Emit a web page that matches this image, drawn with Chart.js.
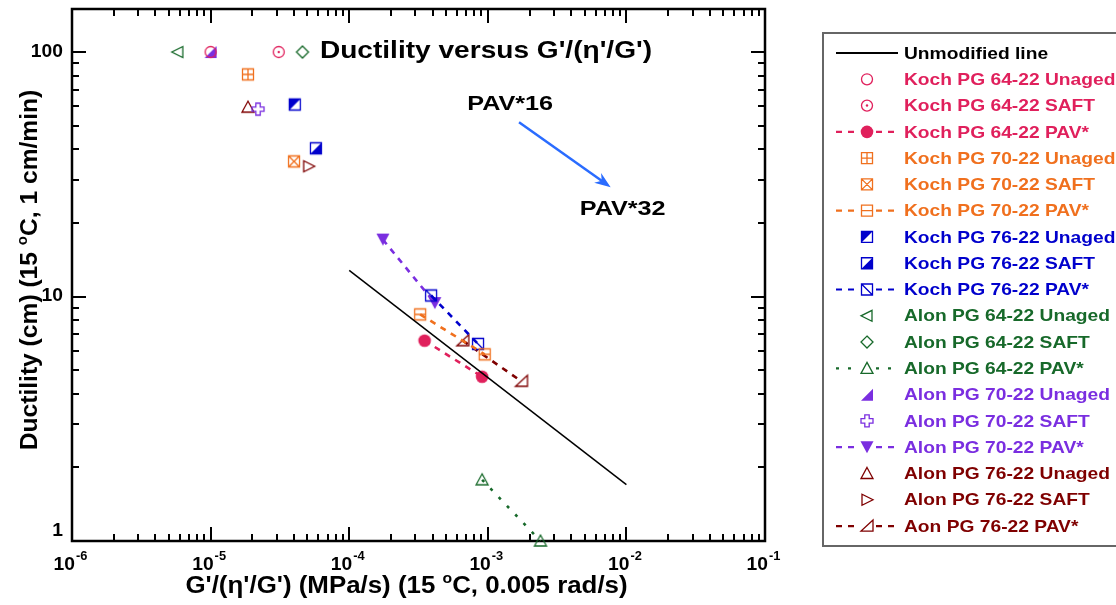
<!DOCTYPE html>
<html>
<head>
<meta charset="utf-8">
<script src="https://cdn.jsdelivr.net/npm/chart.js@4/dist/chart.umd.min.js"></script>
<style>
  body { margin: 0; background: #fff; }
  canvas { display: block; }
</style>
</head>
<body>
<canvas id="ductChart" width="1116" height="605"></canvas>
<script>
const FONT = '"Liberation Sans", Arial, sans-serif';

// axis ranges and tick labels
const xMin = 1e-6, xMax = 0.1;
const yMin = 1, yMax = 150;
const xTickExps = [-6, -5, -4, -3, -2, -1];
const yTickLabels = ["1", "10", "100"];

// data
const unmodifiedX = [1e-4, 1e-2];
const unmodifiedY = [12.8, 1.7];
const koch6422UnagedX = [1.0e-5];
const koch6422UnagedY = [100];
const koch6422SaftX = [3.1e-5];
const koch6422SaftY = [100];
const koch6422PavX = [3.5e-4, 9.1e-4];
const koch6422PavY = [6.6, 4.7];
const koch7022UnagedX = [1.86e-5];
const koch7022UnagedY = [81];
const koch7022SaftX = [4.0e-5];
const koch7022SaftY = [35.7];
const koch7022PavX = [3.25e-4, 9.5e-4];
const koch7022PavY = [8.45, 5.8];
const koch7622UnagedX = [4.05e-5];
const koch7622UnagedY = [61];
const koch7622SaftX = [5.75e-5];
const koch7622SaftY = [40.4];
const koch7622PavX = [3.9e-4, 8.5e-4];
const koch7622PavY = [10.1, 6.4];
const alon6422UnagedX = [5.8e-6];
const alon6422UnagedY = [100];
const alon6422SaftX = [4.6e-5];
const alon6422SaftY = [100];
const alon6422PavX = [9.1e-4, 2.4e-3];
const alon6422PavY = [1.78, 1.0];
const alon7022UnagedX = [1.0e-5];
const alon7022UnagedY = [100];
const alon7022SaftX = [2.2e-5];
const alon7022SaftY = [58.4];
const alon7022PavX = [1.75e-4, 4.15e-4];
const alon7022PavY = [17.1, 9.4];
const alon7622UnagedX = [1.86e-5];
const alon7622UnagedY = [59.5];
const alon7622SaftX = [5.1e-5];
const alon7622SaftY = [34.1];
const alon7622PavX = [6.6e-4, 1.75e-3];
const alon7622PavY = [6.6, 4.5];

// annotation anchors, in data units
const pav16At = [1.45e-3, 61];
const pav32At = [9.4e-3, 22.7];
const arrowFrom = [1.68e-3, 51.6];
const arrowTo = [7.7e-3, 28.0];
const titleAt = [9.7e-4, 101];

const PINK = "#e0205c", ORANGE = "#f0701e", BLUE = "#0000cc";
const GREEN = "#17692a", PURPLE = "#7a2ee0", MAROON = "#7f0000";

function pts(xs, ys) {
  return xs.map((x, i) => ({ x: x, y: ys[i] }));
}

// text in the original is a little wider than Liberation Sans, so stretch it
function stretchText(ctx, text, x, y, sx) {
  ctx.save();
  ctx.translate(x, y);
  ctx.scale(sx, 1);
  ctx.fillText(text, 0, 0);
  ctx.restore();
}

function drawMarker(ctx, type, color, cx, cy) {
  const s = 5.5;
  ctx.save();
  ctx.strokeStyle = color;
  ctx.fillStyle = color;
  ctx.lineWidth = 1.3;
  ctx.setLineDash([]);
  ctx.beginPath();
  switch (type) {
    case "circle":
      ctx.arc(cx, cy, s, 0, Math.PI * 2);
      ctx.stroke();
      break;
    case "circleDot":
      ctx.arc(cx, cy, s, 0, Math.PI * 2);
      ctx.stroke();
      ctx.beginPath();
      ctx.arc(cx, cy, 1.2, 0, Math.PI * 2);
      ctx.fill();
      break;
    case "circleFill":
      ctx.arc(cx, cy, 6.3, 0, Math.PI * 2);
      ctx.fill();
      break;
    case "squarePlus":
      ctx.rect(cx - s, cy - s, 2 * s, 2 * s);
      ctx.moveTo(cx, cy - s); ctx.lineTo(cx, cy + s);
      ctx.moveTo(cx - s, cy); ctx.lineTo(cx + s, cy);
      ctx.stroke();
      break;
    case "squareX":
      ctx.rect(cx - s, cy - s, 2 * s, 2 * s);
      ctx.moveTo(cx - s, cy - s); ctx.lineTo(cx + s, cy + s);
      ctx.moveTo(cx + s, cy - s); ctx.lineTo(cx - s, cy + s);
      ctx.stroke();
      break;
    case "squareH":
      ctx.rect(cx - s, cy - s, 2 * s, 2 * s);
      ctx.moveTo(cx - s, cy); ctx.lineTo(cx + s, cy);
      ctx.stroke();
      break;
    case "squareD":
      ctx.rect(cx - s, cy - s, 2 * s, 2 * s);
      ctx.moveTo(cx - s, cy - s); ctx.lineTo(cx + s, cy + s);
      ctx.stroke();
      break;
    case "squareUL":
      ctx.moveTo(cx - s, cy - s); ctx.lineTo(cx + s, cy - s); ctx.lineTo(cx - s, cy + s);
      ctx.closePath(); ctx.fill();
      ctx.beginPath(); ctx.rect(cx - s, cy - s, 2 * s, 2 * s); ctx.stroke();
      break;
    case "squareLR":
      ctx.moveTo(cx + s, cy - s); ctx.lineTo(cx + s, cy + s); ctx.lineTo(cx - s, cy + s);
      ctx.closePath(); ctx.fill();
      ctx.beginPath(); ctx.rect(cx - s, cy - s, 2 * s, 2 * s); ctx.stroke();
      break;
    case "triLeft":
      ctx.moveTo(cx + 5, cy - 5.5); ctx.lineTo(cx + 5, cy + 5.5); ctx.lineTo(cx - 6, cy);
      ctx.closePath(); ctx.stroke();
      break;
    case "triRight":
      ctx.moveTo(cx - 5, cy - 5.5); ctx.lineTo(cx - 5, cy + 5.5); ctx.lineTo(cx + 6, cy);
      ctx.closePath(); ctx.stroke();
      break;
    case "diamond":
      ctx.moveTo(cx, cy - 6); ctx.lineTo(cx + 6, cy); ctx.lineTo(cx, cy + 6); ctx.lineTo(cx - 6, cy);
      ctx.closePath(); ctx.stroke();
      break;
    case "triUp":
      ctx.moveTo(cx, cy - 6); ctx.lineTo(cx + 6, cy + 5); ctx.lineTo(cx - 6, cy + 5);
      ctx.closePath(); ctx.stroke();
      break;
    case "triCorner":
      ctx.moveTo(cx + 6, cy - 6); ctx.lineTo(cx + 6, cy + 5); ctx.lineTo(cx - 6, cy + 5);
      ctx.closePath(); ctx.stroke();
      break;
    case "triCornerFill":
      ctx.moveTo(cx + 6, cy - 6); ctx.lineTo(cx + 6, cy + 6); ctx.lineTo(cx - 6, cy + 6);
      ctx.closePath(); ctx.fill();
      break;
    case "triDownFill":
      ctx.moveTo(cx - 6.5, cy - 6); ctx.lineTo(cx + 6.5, cy - 6); ctx.lineTo(cx, cy + 6);
      ctx.closePath(); ctx.fill();
      break;
    case "plusOutline": {
      const a = 2.2, b = 6;
      ctx.moveTo(cx - a, cy - b); ctx.lineTo(cx + a, cy - b); ctx.lineTo(cx + a, cy - a);
      ctx.lineTo(cx + b, cy - a); ctx.lineTo(cx + b, cy + a); ctx.lineTo(cx + a, cy + a);
      ctx.lineTo(cx + a, cy + b); ctx.lineTo(cx - a, cy + b); ctx.lineTo(cx - a, cy + a);
      ctx.lineTo(cx - b, cy + a); ctx.lineTo(cx - b, cy - a); ctx.lineTo(cx - a, cy - a);
      ctx.closePath(); ctx.stroke();
      break;
    }
  }
  ctx.restore();
}

function makeMarker(type, color) {
  const c = document.createElement("canvas");
  c.width = 20;
  c.height = 20;
  drawMarker(c.getContext("2d"), type, color, 10, 10);
  return c;
}

const series = [
  { label: "Unmodified line", xs: unmodifiedX, ys: unmodifiedY, color: "#000", marker: null, line: "solid" },
  { label: "Koch PG 64-22 Unaged", xs: koch6422UnagedX, ys: koch6422UnagedY, color: PINK, marker: "circle" },
  { label: "Koch PG 64-22 SAFT", xs: koch6422SaftX, ys: koch6422SaftY, color: PINK, marker: "circleDot" },
  { label: "Koch PG 64-22 PAV*", xs: koch6422PavX, ys: koch6422PavY, color: PINK, marker: "circleFill", line: "dash" },
  { label: "Koch PG 70-22 Unaged", xs: koch7022UnagedX, ys: koch7022UnagedY, color: ORANGE, marker: "squarePlus" },
  { label: "Koch PG 70-22 SAFT", xs: koch7022SaftX, ys: koch7022SaftY, color: ORANGE, marker: "squareX" },
  { label: "Koch PG 70-22 PAV*", xs: koch7022PavX, ys: koch7022PavY, color: ORANGE, marker: "squareH", line: "dash" },
  { label: "Koch PG 76-22 Unaged", xs: koch7622UnagedX, ys: koch7622UnagedY, color: BLUE, marker: "squareUL" },
  { label: "Koch PG 76-22 SAFT", xs: koch7622SaftX, ys: koch7622SaftY, color: BLUE, marker: "squareLR" },
  { label: "Koch PG 76-22 PAV*", xs: koch7622PavX, ys: koch7622PavY, color: BLUE, marker: "squareD", line: "dash" },
  { label: "Alon PG 64-22 Unaged", xs: alon6422UnagedX, ys: alon6422UnagedY, color: GREEN, marker: "triLeft" },
  { label: "Alon PG 64-22 SAFT", xs: alon6422SaftX, ys: alon6422SaftY, color: GREEN, marker: "diamond" },
  { label: "Alon PG 64-22 PAV*", xs: alon6422PavX, ys: alon6422PavY, color: GREEN, marker: "triUp", line: "dot" },
  { label: "Alon PG 70-22 Unaged", xs: alon7022UnagedX, ys: alon7022UnagedY, color: PURPLE, marker: "triCornerFill" },
  { label: "Alon PG 70-22 SAFT", xs: alon7022SaftX, ys: alon7022SaftY, color: PURPLE, marker: "plusOutline" },
  { label: "Alon PG 70-22 PAV*", xs: alon7022PavX, ys: alon7022PavY, color: PURPLE, marker: "triDownFill", line: "dash" },
  { label: "Alon PG 76-22 Unaged", xs: alon7622UnagedX, ys: alon7622UnagedY, color: MAROON, marker: "triUp" },
  { label: "Alon PG 76-22 SAFT", xs: alon7622SaftX, ys: alon7622SaftY, color: MAROON, marker: "triRight" },
  { label: "Aon PG 76-22 PAV*", xs: alon7622PavX, ys: alon7622PavY, color: MAROON, marker: "triCorner", line: "dash" },
];

const dashFor = { solid: [], dash: [6, 6], dot: [3, 9] };

const datasets = series.map((s) => ({
  label: s.label,
  data: pts(s.xs, s.ys),
  showLine: !!s.line,
  borderColor: s.color,
  backgroundColor: s.color,
  borderWidth: s.line === "solid" ? 1.5 : 2.6,
  borderDash: s.line ? dashFor[s.line] : [],
  pointStyle: s.marker ? makeMarker(s.marker, s.color) : false,
  pointRadius: s.marker ? 6 : 0,
  clip: false,
}));

function drawRich(ctx, parts, cx, y, size, sx) {
  const big = "bold " + size + "px " + FONT;
  const small = "bold " + Math.round(size * 0.62) + "px " + FONT;
  let w = 0;
  parts.forEach((p) => {
    ctx.font = p.sup ? small : big;
    w += ctx.measureText(p.t).width * sx;
  });
  let x = cx - w / 2;
  ctx.textAlign = "left";
  ctx.textBaseline = "alphabetic";
  parts.forEach((p) => {
    ctx.font = p.sup ? small : big;
    stretchText(ctx, p.t, x, p.sup ? y - size * 0.42 : y, sx);
    x += ctx.measureText(p.t).width * sx;
  });
}

const framePlugin = {
  id: "frame",
  beforeDatasetsDraw(chart) {
    const ctx = chart.ctx;
    const a = chart.chartArea;
    const xs = chart.scales.x, ys = chart.scales.y;
    ctx.save();
    ctx.strokeStyle = "#000";
    ctx.lineWidth = 2.5;
    ctx.strokeRect(a.left, a.top, a.right - a.left, a.bottom - a.top);
    ctx.lineWidth = 2;
    ctx.beginPath();
    for (let d = -6; d <= -1; d++) {
      for (let k = 1; k <= 9; k++) {
        const v = k * Math.pow(10, d);
        if (v < xMin * 0.999 || v > xMax * 1.001) continue;
        const px = Math.round(xs.getPixelForValue(v));
        const len = k === 1 ? 14 : 7;
        ctx.moveTo(px, a.bottom); ctx.lineTo(px, a.bottom - len);
        ctx.moveTo(px, a.top); ctx.lineTo(px, a.top + len);
      }
    }
    for (let d = 0; d <= 2; d++) {
      for (let k = 1; k <= 9; k++) {
        const v = k * Math.pow(10, d);
        if (v < yMin * 0.999 || v > yMax * 1.001) continue;
        const py = Math.round(ys.getPixelForValue(v));
        const len = k === 1 ? 14 : 7;
        ctx.moveTo(a.left, py); ctx.lineTo(a.left + len, py);
        ctx.moveTo(a.right, py); ctx.lineTo(a.right - len, py);
      }
    }
    ctx.stroke();
    ctx.restore();
  },
  afterDraw(chart) {
    const ctx = chart.ctx;
    const a = chart.chartArea;
    const xs = chart.scales.x, ys = chart.scales.y;
    ctx.save();
    ctx.fillStyle = "#000";

    // x tick labels with superscript exponents
    xTickExps.forEach((e) => {
      const px = xs.getPixelForValue(Math.pow(10, e));
      ctx.font = "bold 18px " + FONT;
      const wb = ctx.measureText("10").width * 1.07;
      ctx.font = "bold 12px " + FONT;
      const we = ctx.measureText(String(e)).width * 1.07;
      const x0 = px - (wb + we) / 2 - 2;
      ctx.textAlign = "left";
      ctx.textBaseline = "alphabetic";
      ctx.font = "bold 18px " + FONT;
      stretchText(ctx, "10", x0, 570, 1.07);
      ctx.font = "bold 12px " + FONT;
      stretchText(ctx, String(e), x0 + wb + 1, 560, 1.07);
    });

    // y tick labels
    ctx.font = "bold 18px " + FONT;
    ctx.textAlign = "right";
    ctx.textBaseline = "middle";
    yTickLabels.forEach((t) => {
      const py = ys.getPixelForValue(Number(t));
      stretchText(ctx, t, a.left - 9, Math.min(py, a.bottom - 10), 1.07);
    });

    // axis titles
    drawRich(ctx, [
      { t: "G'/(\u03b7'/G') (MPa/s) (15 " }, { t: "o", sup: true }, { t: "C, 0.005 rad/s)" },
    ], (a.left + a.right) / 2 - 12, 593, 23, 1.125);
    ctx.save();
    ctx.translate(29, (a.top + a.bottom) / 2 - 5);
    ctx.rotate(-Math.PI / 2);
    drawRich(ctx, [
      { t: "Ductility (cm) (15 " }, { t: "o", sup: true }, { t: "C, 1 cm/min)" },
    ], 0, 8, 23, 1.07);
    ctx.restore();

    // title inside the plot
    ctx.font = "bold 24px " + FONT;
    ctx.textAlign = "center";
    ctx.textBaseline = "middle";
    stretchText(ctx, "Ductility versus G'/(\u03b7'/G')", xs.getPixelForValue(titleAt[0]), ys.getPixelForValue(titleAt[1]), 1.17);

    // PAV annotations and arrow
    ctx.font = "bold 21px " + FONT;
    stretchText(ctx, "PAV*16", xs.getPixelForValue(pav16At[0]), ys.getPixelForValue(pav16At[1]), 1.2);
    stretchText(ctx, "PAV*32", xs.getPixelForValue(pav32At[0]), ys.getPixelForValue(pav32At[1]), 1.2);
    const x1 = xs.getPixelForValue(arrowFrom[0]), y1 = ys.getPixelForValue(arrowFrom[1]);
    const x2 = xs.getPixelForValue(arrowTo[0]), y2 = ys.getPixelForValue(arrowTo[1]);
    const ang = Math.atan2(y2 - y1, x2 - x1);
    ctx.strokeStyle = "#2a6cff";
    ctx.fillStyle = "#2a6cff";
    ctx.lineWidth = 2.5;
    ctx.beginPath();
    ctx.moveTo(x1, y1);
    ctx.lineTo(x2 - 8 * Math.cos(ang), y2 - 8 * Math.sin(ang));
    ctx.stroke();
    ctx.beginPath();
    ctx.moveTo(x2, y2);
    ctx.lineTo(x2 - 16 * Math.cos(ang) + 6 * Math.sin(ang), y2 - 16 * Math.sin(ang) - 6 * Math.cos(ang));
    ctx.lineTo(x2 - 11 * Math.cos(ang), y2 - 11 * Math.sin(ang));
    ctx.lineTo(x2 - 16 * Math.cos(ang) - 6 * Math.sin(ang), y2 - 16 * Math.sin(ang) + 6 * Math.cos(ang));
    ctx.closePath();
    ctx.fill();

    // legend box
    const lx = 823, ly = 33, lw = 320, lh = 513;
    ctx.strokeStyle = "#666";
    ctx.lineWidth = 2;
    ctx.strokeRect(lx, ly, lw, lh);
    const rowH = 26.28;
    series.forEach((s, i) => {
      const cy = 53 + i * rowH;
      ctx.strokeStyle = s.color;
      if (s.line === "solid") {
        ctx.lineWidth = 2;
        ctx.setLineDash([]);
        ctx.beginPath(); ctx.moveTo(836, cy); ctx.lineTo(898, cy); ctx.stroke();
      } else if (s.line) {
        ctx.lineWidth = 2.2;
        ctx.setLineDash(dashFor[s.line]);
        ctx.beginPath();
        ctx.moveTo(836, cy); ctx.lineTo(858, cy);
        ctx.moveTo(876, cy); ctx.lineTo(898, cy);
        ctx.stroke();
        ctx.setLineDash([]);
      }
      if (s.marker) drawMarker(ctx, s.marker, s.color, 867, cy);
      ctx.fillStyle = s.color;
      ctx.font = "bold 17px " + FONT;
      ctx.textAlign = "left";
      ctx.textBaseline = "middle";
      stretchText(ctx, s.label, 904, cy + 1, 1.13);
    });
    ctx.restore();
  },
};

new Chart(document.getElementById("ductChart"), {
  type: "scatter",
  data: { datasets: datasets },
  options: {
    responsive: false,
    animation: false,
    devicePixelRatio: 1,
    layout: { padding: { left: 0, right: 351, top: 9, bottom: 0 } },
    plugins: { legend: { display: false }, tooltip: { enabled: false } },
    scales: {
      x: {
        type: "logarithmic",
        min: xMin,
        max: xMax,
        grid: { display: false, drawTicks: false },
        border: { display: false },
        ticks: { display: false },
        afterFit(scale) { scale.height = 64; },
      },
      y: {
        type: "logarithmic",
        min: yMin,
        max: yMax,
        grid: { display: false, drawTicks: false },
        border: { display: false },
        ticks: { display: false },
        afterFit(scale) { scale.width = 72; },
      },
    },
  },
  plugins: [framePlugin],
});
</script>
</body>
</html>
